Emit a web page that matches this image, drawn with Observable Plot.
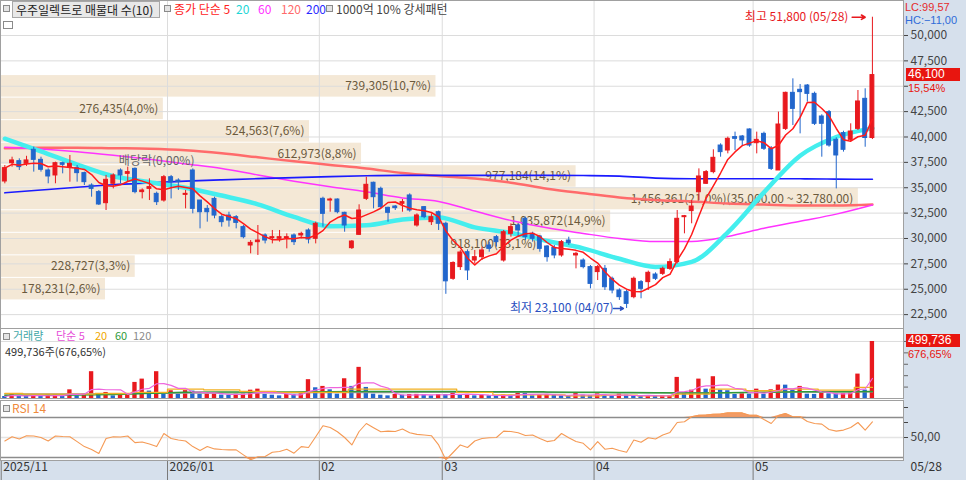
<!DOCTYPE html>
<html><head><meta charset="utf-8">
<script src="https://cdn.jsdelivr.net/npm/d3@7"></script>
<script src="https://cdn.jsdelivr.net/npm/@observablehq/plot@0.6"></script>
<style>
html,body{margin:0;padding:0;background:#fff;}
#wrap{position:relative;width:966px;height:480px;overflow:hidden;font-family:"Noto Sans CJK KR","Noto Sans",sans-serif;}
.panel{position:absolute;left:0;}
.bg{position:absolute;background:#d6e0ec;}
.lg{position:absolute;font-size:12px;line-height:14px;white-space:nowrap;}
.k11{font-size:11px;line-height:11px;}
.num{font-family:"Liberation Sans","DejaVu Sans",sans-serif;font-size:11px;line-height:11px;}
.sq{position:absolute;width:5px;height:5px;border:1px solid #8a8a8a;background:#e4e4e4;}
.badge{position:absolute;left:906px;width:52px;height:13px;line-height:13px;background:#e8150f;color:#fff;font-size:12px;padding-left:2px;font-family:"Liberation Sans","DejaVu Sans",sans-serif;}
</style></head>
<body><div id="wrap">
<div class="bg" style="left:903px;top:0;width:63px;height:460px"></div>
<div class="bg" style="left:0;top:460px;width:966px;height:20px"></div>
<div id="pMain" class="panel" style="top:0"></div>
<div id="pVol" class="panel" style="top:328px"></div>
<div id="pRsi" class="panel" style="top:400px"></div>
</div>
<script>
// ---------------- DATA ----------------
const opens  = [35616,37420,37620,37360,38740,37750,36700,36210,37420,37030,36930,36440,35220,34570,33480,35390,36700,36370,36860,34570,34890,34400,33740,36040,35710,34300,36700,33740,32920,33900,32100,32260,32100,31120,29310,29640,30300,30030,29970,30030,30300,30300,30790,29970,33910,33740,33840,32530,29050,30360,33910,35490,34890,33020,33150,33420,34240,31280,33090,31610,32590,31450,26030,27180,28650,27830,28160,29310,30130,27830,30460,31280,31940,30460,30200,29210,29080,28330,29800,28330,27830,27180,26690,27010,26030,24880,24710,24220,25700,25700,26450,26520,27010,27670,32100,32700,34560,35390,36540,39160,38670,39990,40050,40740,39390,40310,38840,36700,40800,44350,44650,45070,44250,42020,42450,39720,40380,39720,40800,43760,39900];
const highs  = [37190,38010,37850,38100,39000,38010,36860,37520,37520,38180,37190,36540,35390,34730,36210,36370,36860,37030,36950,34890,35880,34570,36210,36210,35880,34730,36860,33740,33250,34070,32260,32590,32260,31280,29800,31280,30460,30790,30790,30460,30460,30620,30950,31610,34070,33970,33900,32590,29800,33320,36040,35550,35060,33090,33250,33840,34400,32430,33150,32430,32700,31610,27700,28800,28880,28820,29140,29640,30300,30790,31450,31450,32100,30620,30300,29310,29310,29800,30130,28650,28000,27340,27340,27340,26200,25040,24880,26200,25860,26790,26620,27180,27990,32760,32270,33740,36860,36700,38740,39330,39990,40480,40150,40800,40480,40480,39060,42450,44420,45730,45170,45170,44420,42190,42610,39920,40570,41300,44580,44750,51800];
const lows   = [35385,37030,36700,37100,36540,36540,35390,35390,36370,35550,35550,35220,34070,33250,32760,34890,35390,35550,34400,33900,33740,33250,33580,33900,34730,32920,32430,30950,31610,31940,31120,31120,30950,29970,28490,28330,29470,29470,29640,28980,29310,29970,29470,29470,31120,32590,32430,30620,28920,30300,33740,32920,32920,31610,32760,32590,32590,31120,31940,31280,30790,24500,25880,26850,25860,27500,27830,28650,29150,27670,30130,30130,29800,29640,28650,27670,28000,28160,29310,27010,27010,25040,25860,24880,24550,23900,23100,24060,24060,24880,25860,26360,26850,27500,30460,31450,33740,35320,36370,38010,38340,38670,39160,38990,38340,38670,36700,36700,40640,41130,40310,43430,41130,38010,38990,34890,38510,39490,40640,38990,39750];
const closes = [36930,37690,37030,37690,37750,36770,36110,37420,37260,37360,36440,35550,34890,33350,35780,36210,36210,36540,34570,34730,35060,33580,36040,35550,35550,34400,32920,32590,32590,32260,31610,31770,31540,30130,29570,29800,29800,30130,30130,30130,29640,30460,29900,31450,32430,33840,32590,31280,29700,32760,35290,34070,33090,32530,32990,33580,32760,32270,32100,32100,31450,25780,27590,28620,26850,28160,28820,28980,29640,30620,31120,30790,30130,29970,28980,28160,28330,29640,29540,28490,27180,25530,27180,25200,24880,24220,23560,26030,25040,26620,26030,27010,27670,31940,32200,33150,36110,36540,37950,38510,39820,39820,39660,39160,39720,38840,36860,41230,44350,42770,44420,44250,41300,41300,39160,38180,38740,40540,43500,39900,46100];
const volumes = [17600,35000,23000,18000,29000,18000,32000,33000,18000,76000,23000,38000,235000,35000,53000,23000,35000,36000,141000,170000,65000,235000,38000,68000,38000,69000,65000,38000,39000,40000,30000,29000,38000,39000,73000,82000,35000,29000,23000,35000,34000,41000,165000,94000,106000,76000,38000,173000,106000,273000,97000,38000,29000,23000,35000,29000,35000,36000,35000,23000,35000,34000,53000,35000,36000,23000,26000,24000,22000,30000,28000,59000,44000,23000,32000,34000,32000,23000,21000,53000,29000,27000,41000,23000,18000,38000,29000,23000,22000,26000,23000,24000,26000,185000,41000,73000,170000,82000,191000,73000,68000,35000,41000,38000,82000,38000,76000,118000,117000,73000,106000,38000,36000,44000,41000,40000,43000,47000,214000,73854,499736];
const rsi14 = [46.5,50.8,48.5,51.8,51.5,50,46.5,51.5,51,50.8,45.9,40.9,38,34,49,50.8,50.5,51.5,44.9,45.5,43.5,40.9,54,49,47.5,46.5,40.9,37,40.9,38.6,38,37.6,37.6,32.6,27.7,30.7,31,35.3,36,38.3,34.3,40.9,40,50.8,61.7,60,55.8,50,42.6,56,64,59.8,55.8,56.4,56,58.4,54.8,53.1,52.5,51.8,42.6,27.7,35,42.6,40,46.5,49,49.8,50,56.4,56,54.8,52,52.5,49,45.9,47,54,49.8,46,44.2,37.6,45.9,38.3,39.3,37,35.3,47.5,45.2,49.8,48.5,52.5,55.1,65,65.7,70.7,72.3,72.5,73.3,73.5,74.6,74.6,74.6,72.3,72.3,68,64,72,73.9,70.7,70.7,66,64,63.4,58,56.4,57.4,60,65,57.4,65.7];

// moving averages read at every 5th candle
const maIdx  = [0,5,10,15,20,25,30,35,40,45,50,55,60,65,70,75,80,85,90,95,100,105,110,115,120];
const ma20   = [39830,38590,37280,36130,35550,35000,34230,33370,32130,31200,31300,31870,32080,31100,30540,29750,29030,28000,27200,27700,30600,34540,38150,40000,40850];
const ma60   = [39000,38820,38550,38200,37800,37350,36900,36250,35650,35100,34600,34000,33650,32700,31770,31050,30500,30000,29700,29700,30200,31000,31700,32400,33300];
const ma120  = [38900,38950,38950,38900,38850,38700,38400,38000,37600,37250,36900,36450,36150,35900,35500,34900,34450,34050,33800,33650,33450,33350,33250,33250,33350];
const ma200  = [34500,34780,35050,35300,35480,35650,35780,35900,36000,36100,36180,36220,36220,36220,36220,36220,36200,36150,35950,35880,35880,35880,35880,35850,35830];
const volMa20  = [44000,38000,38000,44000,53000,82000,76000,62000,53000,53000,82000,82000,82000,53000,32000,32000,23000,29000,23000,38000,82000,68000,82000,73000,97000];
const volMa60  = [29000,29000,30000,35000,45000,55000,58000,58000,58000,60000,62000,62000,62000,60000,60000,58000,55000,53000,50000,48000,50000,55000,60000,60000,62000];
const volMa120 = [40000,40000,41000,42000,44000,46000,48000,49000,50000,51000,52000,52000,53000,53000,53000,52000,51000,50000,50000,50000,52000,54000,56000,57000,58000];

// 매물대 (volume profile), top to bottom
const bandHigh = [46100,43880,41660,39440,37220,35000,32780,30560,28340,26120];
const bandLow  = [43880,41660,39440,37220,35000,32780,30560,28340,26120,23900];
const bandVol  = [739305,276435,524563,612973,977184,1456361,1035872,918100,228727,178231];
const bandPct  = [10.7,4.0,7.6,8.8,14.1,21.0,14.9,13.1,3.3,2.6];

const monthStartIdx = [0,23,44,61,82,104];
const monthLabels   = ["2025/11","2026/01","02","03","04","05"];
const lastDateLabel = "05/28";
const extremeLabels = ["최고 51,800 (05/28)","최저 23,100 (04/07)"];
const exDivIdx = 21, exDivLabel = "배당락(0,00%)";
const priceTicks = [22500,25000,27500,30000,32500,35000,37500,40000,42500,45000,47500,50000];

// ---------------- SETUP ----------------
const FONT = '"Noto Sans CJK KR","Noto Sans",sans-serif';
const UP = "#e8191e", DN = "#2266cc";
const W = 966, MR = 63;
const xDomain = [-0.6, 124.3];
const fmtInt = d3.format(",");
const fmt2 = v => d3.format(",.2f")(v).replace(/\.(\d\d)$/, ",$1");
const fmt1 = v => v.toFixed(1).replace(".", ",");

const candles = opens.map((o, i) => ({i, o, h: highs[i], l: lows[i], c: closes[i], up: closes[i] >= o}));
const ma5 = closes.map((c, i) => d3.mean(closes.slice(Math.max(0, i - 4), i + 1)));
const maRows = maIdx.map((i, k) => ({i, ma20: ma20[k], ma60: ma60[k], ma120: ma120[k], ma200: ma200[k],
  v20: volMa20[k], v60: volMa60[k], v120: volMa120[k]}));
const gridMonths = monthStartIdx.slice(1).map(i => i - 0.5);
const maxBand = d3.max(bandVol);
const bands = bandVol.map((v, k) => {
  let label = fmtInt(v) + "(" + fmt1(bandPct[k]) + "%)";
  if (v === maxBand) label += "(" + fmt2(bandHigh[k]) + " ~ " + fmt2(bandLow[k]) + ")";
  return {hi: bandHigh[k], lo: bandLow[k], x2: xDomain[0] + v / maxBand * 0.95 * (xDomain[1] - xDomain[0]), label};
});
const hiIdx = d3.maxIndex(highs), loIdx = d3.minIndex(lows);
const hiData = [{i: hiIdx, p: highs[hiIdx], t: extremeLabels[0]}];
const loData = [{i: loIdx, p: lows[loIdx], t: extremeLabels[1]}];
const volRows = volumes.map((v, i) => ({i, v, up: i > 0 && v > volumes[i - 1],
  m5: d3.mean(volumes.slice(Math.max(0, i - 4), i + 1))}));
const rsiRows = rsi14.map((v, i) => ({i, v}));
const lastClose = closes[closes.length - 1], prevClose = closes[closes.length - 2];
const style = {fontFamily: FONT, fontSize: "12px", background: "transparent", overflow: "visible"};
const gridCol = "#dcdcdc";

// ---------------- MAIN PANEL ----------------
const main = Plot.plot({
  width: W, height: 328, marginLeft: 0, marginRight: MR, marginTop: 0, marginBottom: 0,
  x: {domain: xDomain, axis: null, label: null},
  y: {domain: [21133, 53448], axis: null, label: null},
  style,
  marks: [
    Plot.rect(bands, {x1: xDomain[0], x2: "x2", y1: "lo", y2: "hi", fill: "#f4e8d6", insetTop: 0.5, insetBottom: 0.5}),
    Plot.gridY(priceTicks, {stroke: gridCol, strokeOpacity: 1}),
    Plot.gridX(gridMonths, {stroke: gridCol, strokeOpacity: 1}),
    Plot.text(bands, {x: "x2", y: d => (d.lo + d.hi) / 2, text: "label", textAnchor: "end", dx: -5, fill: "#6b5a3d", fontSize: 12}),
    Plot.line(maRows, {x: "i", y: "ma120", stroke: "#ff6b6b", strokeWidth: 2.5, curve: "monotone-x"}),
    Plot.line(maRows, {x: "i", y: "ma60", stroke: "#ff33ff", strokeWidth: 1.5, curve: "monotone-x"}),
    Plot.line(maRows, {x: "i", y: "ma200", stroke: "#1a1aff", strokeWidth: 1.6, curve: "monotone-x"}),
    Plot.line(maRows, {x: "i", y: "ma20", stroke: "#44eeee", strokeWidth: 4.5, curve: "monotone-x"}),
    Plot.ruleX(candles, {x: "i", y1: "l", y2: "h", stroke: d => d.up ? UP : DN, strokeWidth: 1}),
    Plot.rect(candles, {x1: d => d.i - 0.27, x2: d => d.i + 0.27, y1: "o", y2: "c",
      fill: d => d.up ? UP : DN, stroke: d => d.up ? UP : DN, strokeWidth: 1}),
    Plot.line(candles, {x: "i", y: d => ma5[d.i], stroke: "#ff1a1a", strokeWidth: 1.5}),
    Plot.text([exDivIdx], {x: d => d, y: d => highs[d], text: () => exDivLabel, dy: -31, fill: "#666", fontSize: 12}),
    Plot.text(hiData, {x: "i", y: "p", text: "t", textAnchor: "end", dx: -24, fill: UP, fontSize: 12}),
    Plot.arrow(hiData, {x1: d => d.i - 2.8, x2: d => d.i - 1.0, y1: "p", y2: "p", stroke: UP, strokeWidth: 1.6, headLength: 7}),
    Plot.text(loData, {x: "i", y: "p", text: "t", textAnchor: "end", dx: -13, fill: "#2a4fc0", fontSize: 12}),
    Plot.arrow(loData, {x1: d => d.i - 1.8, x2: d => d.i - 0.45, y1: "p", y2: "p", stroke: "#2a4fc0", strokeWidth: 1.6, headLength: 7}),
    Plot.axisY(priceTicks, {anchor: "right", label: null, tickSize: 4, tickPadding: 3,
      tickFormat: d => Math.abs(d - lastClose) < 1200 ? "" : fmtInt(d), color: "#444", fontSize: 12}),
    Plot.frame({stroke: "#a0a0a0"})
  ]
});
document.getElementById("pMain").append(main);

// ---------------- VOLUME PANEL ----------------
const vol = Plot.plot({
  width: W, height: 72, marginLeft: 0, marginRight: MR, marginTop: 0, marginBottom: 2,
  x: {domain: xDomain, axis: null, label: null},
  y: {domain: [0, d3.max(volumes) * 1.228], axis: null, label: null},
  style,
  marks: [
    Plot.gridY([500000], {stroke: gridCol, strokeOpacity: 1}),
    Plot.gridX(gridMonths, {stroke: gridCol, strokeOpacity: 1}),
    Plot.rectY(volRows, {x1: d => d.i - 0.3, x2: d => d.i + 0.3, y: "v", fill: d => d.up ? UP : DN}),
    Plot.line(maRows, {x: "i", y: "v120", stroke: "#9a9a9a", strokeWidth: 1.2, curve: "monotone-x"}),
    Plot.line(maRows, {x: "i", y: "v60", stroke: "#2f9a3a", strokeWidth: 1.5, curve: "monotone-x"}),
    Plot.line(maRows, {x: "i", y: "v20", stroke: "#f2b022", strokeWidth: 1.3, curve: "step"}),
    Plot.line(volRows, {x: "i", y: "m5", stroke: "#ee66dd", strokeWidth: 1.2}),
    Plot.axisY([100000,200000,300000,400000,500000], {anchor: "right", label: null, tickSize: 4, tickFormat: () => "", color: "#666"}),
    Plot.frame({stroke: "#a0a0a0"})
  ]
});
document.getElementById("pVol").append(vol);

// ---------------- RSI PANEL ----------------
const rsi = Plot.plot({
  width: W, height: 80, marginLeft: 0, marginRight: MR, marginTop: 0, marginBottom: 20,
  x: {domain: xDomain, axis: null, label: null},
  y: {domain: [27, 87], axis: null, label: null},
  style,
  marks: [
    Plot.gridX(gridMonths, {stroke: gridCol, strokeOpacity: 1}),
    Plot.ruleY([50], {stroke: "#e4e4e4", strokeWidth: 1.5}),
    Plot.ruleY([70, 30], {stroke: "#8c8c8c", strokeWidth: 1.5}),
    Plot.areaY(rsiRows, {x: "i", y1: 70, y2: d => Math.max(70, d.v), fill: "#f0894a", fillOpacity: 0.85}),
    Plot.areaY(rsiRows, {x: "i", y1: 30, y2: d => Math.min(30, d.v), fill: "#f0894a", fillOpacity: 0.85}),
    Plot.line(rsiRows, {x: "i", y: "v", stroke: "#f59a55", strokeWidth: 1.1}),
    Plot.axisY([80, 65, 50], {anchor: "right", label: null, tickSize: 4, tickPadding: 3, tickFormat: d => d === 50 ? fmt2(d) : "", color: "#444", fontSize: 12}),
    Plot.axisX(monthStartIdx.map(i => i - 0.5), {anchor: "bottom", label: null, tickSize: 20, tickFormat: () => "", color: "#7a7a7a"}),
    Plot.text(monthStartIdx, {x: d => d - 0.5, text: (d, k) => monthLabels[k], frameAnchor: "bottom", dy: 10, dx: 2, textAnchor: "start", fill: "#333", fontSize: 12}),
    Plot.text([lastDateLabel], {frameAnchor: "bottom-right", text: d => d, dx: 7, dy: 10, textAnchor: "start", fill: "#333", fontSize: 12}),
    Plot.frame({stroke: "#a0a0a0"})
  ]
});
document.getElementById("pRsi").append(rsi);

// ---------------- OVERLAY TEXT (legends, badges) ----------------
const wrap = document.getElementById("wrap");
function add(cls, css, html) {
  const d = document.createElement("div");
  d.className = cls; d.style.cssText = css; if (html != null) d.innerHTML = html;
  wrap.append(d); return d;
}
// main header
add("sq", "left:3px;top:5px");
add("lg", "left:12px;top:1px;width:143px;height:15px;line-height:15px;border:1px solid #a8a8a8;background:#e8e8e8;color:#222;padding-left:3px", "우주일렉트로 매물대 수(10)");
add("sq", "left:3px;top:21px;width:8px;height:6px;background:#fff");
add("sq", "left:164px;top:5px");
add("lg", "left:174px;top:2px;color:#ff2222", "종가 단순 5");
add("lg", "left:236px;top:2px;color:#22d6d6", "20");
add("lg", "left:258px;top:2px;color:#ff33ff", "60");
add("lg", "left:281px;top:2px;color:#ff6b6b", "120");
add("lg", "left:306px;top:2px;color:#2a2aff", "200");
add("sq", "left:326px;top:5px");
add("lg", "left:336px;top:2px;color:#444", "1000억 10% 강세패턴");
// right panel info
const lc = (lastClose / d3.min(lows) - 1) * 100, hc = (lastClose / d3.max(highs) - 1) * 100;
add("lg num", "left:905px;top:2px;color:#e52b2b", "LC:" + fmt2(lc));
add("lg num", "left:905px;top:15px;color:#2f6bd8", "HC:" + fmt2(hc));
const yPrice = main.scale("y").apply(lastClose);
add("badge", `top:${yPrice - 6.5}px`, fmtInt(lastClose));
add("lg num", `left:908px;top:${yPrice + 8.5}px;color:#e8150f`, fmt2((lastClose / prevClose - 1) * 100) + "%");
// volume header
const lastVol = volumes[volumes.length - 1], prevVol = volumes[volumes.length - 2];
const volPct = fmt2(lastVol / prevVol * 100) + "%";
add("sq", "left:3px;top:333px");
add("lg k11", "left:13px;top:330px;color:#3fa7a7", "거래량");
add("lg k11", "left:56px;top:330px;color:#e64fd8", "단순 5");
add("lg k11", "left:95px;top:330px;color:#f0a800", "20");
add("lg k11", "left:115px;top:330px;color:#2f9a3a", "60");
add("lg k11", "left:133px;top:330px;color:#8a8a8a", "120");
add("lg k11", "left:5px;top:346px;color:#333", fmtInt(lastVol) + "주(" + volPct + ")");
const yVol = 328 + vol.scale("y").apply(lastVol);
add("badge", `top:${yVol - 7}px`, fmtInt(lastVol));
add("lg num", `left:908px;top:${yVol + 8.5}px;color:#e8150f`, volPct);
// rsi header
add("sq", "left:3px;top:405px");
add("lg", "left:12px;top:401px;color:#f08a3c", "RSI 14");
</script>
</body></html>
